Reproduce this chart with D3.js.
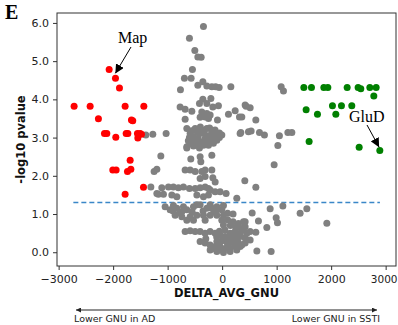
<!DOCTYPE html>
<html><head><meta charset="utf-8">
<script src="https://cdn.jsdelivr.net/npm/d3@7"></script>
<style>
body{margin:0;background:#fff;}
svg{display:block;}
</style></head>
<body>
<svg id="c" width="398" height="325"></svg>
<script>
// ---- data ----
const xTicks = [-3000,-2000,-1000,0,1000,2000,3000];
const yTicks = [0,1,2,3,4,5,6];
const threshold = 1.3;
const thresholdRange = [-2730, 2895];

const redPoints = [
 [-2073,4.78],[-1957,4.55],[-1884,4.30],[-2716,3.82],[-2422,3.82],[-1780,3.82],[-1437,3.82],
 [-2270,3.49],[-1664,3.46],[-1640,3.44],[-2159,3.11],[-2116,3.11],[-1951,3.01],[-1761,3.11],[-1730,3.11],
 [-1554,3.11],[-1505,3.11],[-1480,3.09],[-1547,2.99],[-1688,2.41],[-2006,2.15],[-1945,2.15],
 [-1737,2.11],[-1675,2.17],[-1443,1.70],[-1780,1.52]
];
const greenPoints = [
 [1499,4.31],[1639,4.31],[1866,4.31],[1939,4.31],[2294,4.31],[2495,4.31],[2544,4.28],[2710,4.31],[2826,4.31],
 [2783,4.09],[2024,3.83],[2189,3.83],[2379,3.83],[1541,3.73],[1749,3.61],[2086,3.61],
 [1596,2.90],[2514,2.75],[2893,2.66]
];
const greyPoints = [
 [-343,5.91],[-600,5.60],[-501,5.28],[-446,5.11],[-385,5.10],[-545,4.78],[-692,4.55],[-569,4.55],
 [-446,4.37],[-354,4.46],[-281,4.35],[-189,4.33],[-120,4.33],[-55,4.31],[160,4.33],[-765,4.25],
 [-354,4.00],[-207,4.02],[-416,3.89],[-281,3.89],[-68,3.83],[-171,3.80],
 [-771,3.80],[-679,3.74],[-556,3.69],[-373,3.67],[-281,3.63],[-220,3.59],[-404,3.53],[-312,3.54],[-86,3.46],[-679,3.48],[-250,3.50],
 [116,3.61],[239,3.70],[318,3.54],[440,3.82],[514,3.78],[422,3.85],[361,3.54],[618,3.46],
 [1083,4.33],[1125,4.22],
 [-648,3.24],[-587,3.11],[-495,3.24],[-373,3.20],[-281,3.24],[-189,3.15],[-97,3.11],[-526,3.02],[-440,2.98],[-312,2.98],
 [-220,2.93],[-587,2.85],[-464,2.80],[-343,2.80],[-97,2.93],[-6,3.07],[-648,2.76],
 [-420,3.10],[-250,3.05],[-150,3.02],[-380,2.88],[-520,2.92],[-160,2.85],[-600,3.00],[-330,3.12],[-230,3.25],[-460,3.15],[-50,3.00],
 [-560,3.18],[-400,3.28],[-200,3.05],[-130,3.20],[-480,2.88],[-280,2.88],[-620,2.92],[-50,3.12],
 [-1400,3.07],[-1272,3.09],[-1028,3.11],
 [330,3.11],[483,3.15],[343,3.13],[532,3.17],[685,3.13],[776,3.07],[1051,3.05],[1206,3.13],[1279,3.13],[1022,2.79],[954,2.29],
 [-648,2.73],[-526,2.78],[-416,2.73],[-251,2.80],
 [-1125,2.52],[-575,2.44],[-404,2.50],[-391,2.37],[-189,2.54],
 [-1248,2.11],[-1198,2.17],
 [-679,2.15],[-587,2.15],[-495,2.11],[-373,2.11],[-312,2.15],[-189,2.15],
 [-312,1.98],[-404,1.93],[-171,1.95],[-128,1.84],
 [416,1.87],[618,1.70],
 [-1308,1.71],[-1107,1.69],[-985,1.71],[-894,1.71],[-802,1.69],[-710,1.71],[-600,1.67],[-495,1.67],[-404,1.69],[-312,1.71],
 [-251,1.67],[-220,1.63],[-128,1.58],[-37,1.58],[73,1.54],
 [-1169,1.52],[-1077,1.52],[-923,1.50],[-831,1.45],[-464,1.50],[-343,1.45],[-251,1.50],[269,1.41],[-1198,1.54],
 [-1046,1.19],[-954,1.11],[-831,1.15],[-740,1.06],[-648,1.11],[-526,1.19],[-404,1.24],[-281,1.15],[-189,1.15],[-97,1.11],
 [-6,1.11],[24,0.97],[-862,0.97],[-740,0.93],[-587,0.93],[-464,0.97],[-343,0.97],[-220,0.97],[-97,0.97],[-6,0.84],
 [-312,0.84],[-526,0.84],[-648,0.84],[-894,1.22],[-710,1.19],[-464,1.24],[-220,1.24],[-97,1.19],[24,1.22],
 [551,1.03],[666,0.82],[820,0.65],[881,1.14],[991,0.90],[1015,0.77],[1114,1.21],[1431,1.02],[1554,1.14],[1921,0.76],
 [618,0.52],[422,0.80],[379,0.58],[453,0.50],[330,0.41],[361,0.19],[637,0.03],[899,0.02],
 [24,0.71],[391,0.80],[422,0.67],[514,0.54],
 [-679,0.54],[-587,0.56],[-495,0.54],[-404,0.54],[-312,0.50],[-220,0.54],[-128,0.50],[-37,0.45],[55,0.41],[147,0.50],[239,0.54],[330,0.50],
 [-404,0.28],[-312,0.24],[-220,0.19],[-128,0.15],[-37,0.15],[55,0.10],[147,0.10],[239,0.15],[330,0.15],[422,0.24],[514,0.32],
 [177,0.32],[269,0.32],[86,0.28],[-97,0.28],[-220,0.06],[-97,0.02],[24,-0.01],[147,0.02],[269,0.06],
 [-100,0.40],[0,0.30],[100,0.20],[200,0.25],[-300,0.35],[100,0.85],[200,0.80],[300,0.75],[150,0.70],[250,0.65],[350,0.62],
 [-550,1.05],[-350,1.08],[-150,1.05],[100,1.02],[200,1.00],
 [-50,0.55],[50,0.58],[150,0.42],[250,0.42],[0,0.08],[-150,0.10],[300,0.25],[420,0.38],[-780,1.03],[-900,1.08]
];
const annotations = [
 {label:"Map", text:[118,43], from:[131,47], to:[-1960,4.68]},
 {label:"GluD", text:[349,122], from:[367,125], to:[2880,2.75]}
];

// ---- chart ----
const svg = d3.select("#c");
const L=57, R=396, T=13, B=266;
const x = d3.scaleLinear().domain([-3030,3190]).range([L,R]);
const y = d3.scaleLinear().domain([-0.36,6.26]).range([B,T]);

const defs = svg.append("defs");
defs.append("marker").attr("id","tri").attr("viewBox","0 0 10 10").attr("refX",10).attr("refY",5)
 .attr("markerWidth",9).attr("markerHeight",9).attr("markerUnits","userSpaceOnUse").attr("orient","auto")
 .append("path").attr("d","M0,0L10,5L0,10Z").attr("fill","#000");
defs.append("marker").attr("id","small").attr("viewBox","0 0 10 10").attr("refX",10).attr("refY",5)
 .attr("markerWidth",6).attr("markerHeight",5).attr("markerUnits","userSpaceOnUse").attr("orient","auto-start-reverse")
 .append("path").attr("d","M0,0L10,5L0,10Z").attr("fill","#222");

// axes
const fontAxis = "'DejaVu Sans', sans-serif";
const xa = svg.append("g").attr("transform",`translate(0,${B})`)
 .call(d3.axisBottom(x).tickValues(xTicks).tickSize(4).tickSizeOuter(0).tickFormat(d=>d3.format("d")(d).replace("-","\u2212")));
const ya = svg.append("g").attr("transform",`translate(${L},0)`)
 .call(d3.axisLeft(y).tickValues(yTicks).tickSize(4).tickSizeOuter(0).tickFormat(d3.format(".1f")));
[xa,ya].forEach(g=>{
  g.select(".domain").remove();
  g.selectAll("line").attr("stroke","#333");
  g.selectAll("text").attr("font-family",fontAxis).attr("font-size",11).attr("fill","#222");
});
xa.selectAll("text").attr("dy","0.95em");
xa.selectAll(".tick").filter(d=>d===3000).select("text").attr("font-size",10.5).attr("dx",-2);
ya.selectAll("text").attr("dx","-0.1em");

svg.append("rect").attr("x",L).attr("y",T).attr("width",R-L).attr("height",B-T)
 .attr("fill","none").attr("stroke","#333").attr("stroke-width",1);

// threshold
svg.append("line").attr("x1",x(thresholdRange[0])).attr("x2",x(thresholdRange[1]))
 .attr("y1",y(threshold)).attr("y2",y(threshold))
 .attr("stroke","#3a87c8").attr("stroke-width",1.5).attr("stroke-dasharray","5,3");

// points
const r = 3.5;
svg.append("g").selectAll("circle").data(greyPoints).join("circle")
 .attr("cx",d=>x(d[0])).attr("cy",d=>y(d[1])).attr("r",r).attr("fill","#808080");
svg.append("g").selectAll("circle").data(redPoints).join("circle")
 .attr("cx",d=>x(d[0])).attr("cy",d=>y(d[1])).attr("r",r).attr("fill","#ff0000");
svg.append("g").selectAll("circle").data(greenPoints).join("circle")
 .attr("cx",d=>x(d[0])).attr("cy",d=>y(d[1])).attr("r",r).attr("fill","#008000");

// annotations
annotations.forEach(a=>{
  svg.append("text").attr("x",a.text[0]).attr("y",a.text[1]).text(a.label)
   .attr("font-family","'Liberation Serif','DejaVu Serif',serif").attr("font-size",16).attr("fill","#000");
  svg.append("line").attr("x1",a.from[0]).attr("y1",a.from[1]).attr("x2",x(a.to[0])).attr("y2",y(a.to[1]))
   .attr("stroke","#000").attr("stroke-width",1).attr("marker-end","url(#tri)");
});

// labels
svg.append("text").attr("x",5).attr("y",19).text("E")
 .attr("font-family","'Liberation Serif',serif").attr("font-weight","bold").attr("font-size",20);
svg.append("text").attr("x",(L+R)/2).attr("y",297).attr("text-anchor","middle").text("DELTA_AVG_GNU")
 .attr("font-family",fontAxis).attr("font-weight","bold").attr("font-size",11.5).attr("fill","#111");
svg.append("text").attr("transform",`translate(25,${(T+B)/2}) rotate(-90)`).attr("text-anchor","middle")
 .text("-log10 pvalue").attr("font-family",fontAxis).attr("font-weight","bold").attr("font-size",11.5).attr("fill","#111");

// bottom arrow
svg.append("line").attr("x1",76).attr("x2",377).attr("y1",310).attr("y2",310)
 .attr("stroke","#222").attr("stroke-width",1)
 .attr("marker-start","url(#small)").attr("marker-end","url(#small)");
svg.append("text").attr("x",74).attr("y",322).text("Lower GNU in AD")
 .attr("font-family",fontAxis).attr("font-size",9.5).attr("fill","#222");
svg.append("text").attr("x",380).attr("y",322).attr("text-anchor","end").text("Lower GNU in SSTI")
 .attr("font-family",fontAxis).attr("font-size",9.5).attr("fill","#222");
</script>
</body></html>
